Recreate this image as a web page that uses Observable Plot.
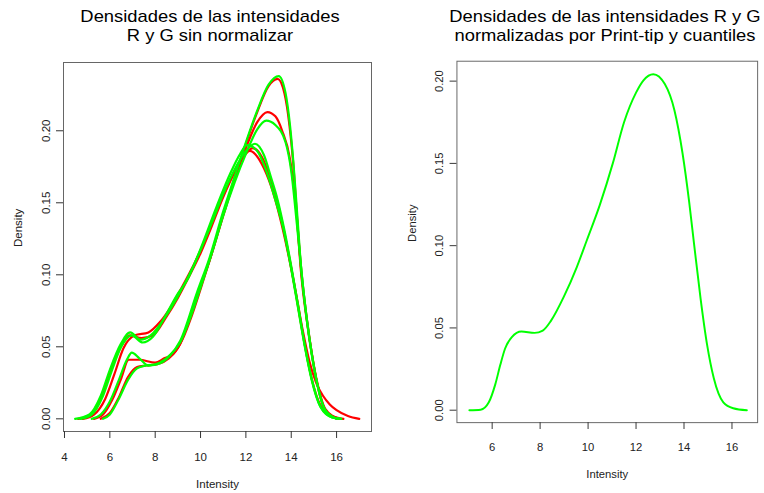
<!DOCTYPE html>
<html><head><meta charset="utf-8">
<script src="https://cdn.jsdelivr.net/npm/d3@7"></script>
<script src="https://cdn.jsdelivr.net/npm/@observablehq/plot@0.6"></script>
<style>
html,body{margin:0;padding:0;background:#fff;overflow:hidden;}
#wrap{position:relative;width:764px;height:493px;overflow:hidden;font-family:"Liberation Sans",Arial,sans-serif;background:#fff;}
.title{position:absolute;width:400px;height:19.2px;text-align:center;font-size:17px;line-height:19.2px;color:#000;white-space:nowrap;transform:scaleX(1.08);transform-origin:50% 50%;}
.panel{position:absolute;top:0;}
</style></head>
<body><div id="wrap">
<div class="panel" id="left" style="left:0"></div>
<div class="panel" id="right" style="left:382px"></div>
<div class="title" style="left:10px;top:7.2px">Densidades de las intensidades</div>
<div class="title" style="left:10px;top:26.4px">R y G sin normalizar</div>
<div class="title" style="left:405px;top:7.2px">Densidades de las intensidades R y G</div>
<div class="title" style="left:405px;top:26.4px">normalizadas por Print-tip y cuantiles</div>
</div>
<script>
// ---- Tick labels ----
const leftXTicks = [4, 6, 8, 10, 12, 14, 16];
const rightXTicks = [6, 8, 10, 12, 14, 16];
const densityTicks = [0, 0.05, 0.10, 0.15, 0.20];

// ---- Left panel: raw R (red) and G (green) densities ----
const redUpper1X = [4.8,5.3,5.8,6.2,6.6,7.1,7.7,8.2,8.7,9.2,9.7,10.2,10.7,11.2,11.7,12.17,12.7,13.1,13.5,13.9,14.2,14.5,14.8,15.1,15.4,15.7,16.0,16.5,17.0];
const redUpper1Y = [0,0.003,0.014,0.031,0.049,0.058,0.060,0.067,0.078,0.092,0.107,0.124,0.144,0.162,0.178,0.186,0.177,0.162,0.140,0.112,0.088,0.062,0.040,0.025,0.016,0.010,0.006,0.002,0];

const redUpper2X = [4.6,5.1,5.6,6.0,6.45,6.9,7.4,7.9,8.5,9.0,9.5,10.0,10.5,11.0,11.5,12.0,12.3,12.7,13.1,13.4,13.7,14.0,14.3,14.6,14.9,15.3,15.8,16.3];
const redUpper2Y = [0,0.002,0.014,0.032,0.049,0.058,0.056,0.058,0.071,0.084,0.099,0.115,0.134,0.154,0.171,0.184,0.188,0.182,0.166,0.150,0.129,0.105,0.078,0.051,0.028,0.009,0.002,0];

const redLower1X = [5.3,5.7,6.1,6.5,6.83,7.3,8.0,8.4,8.8,9.2,9.6,10.0,10.5,11.0,11.5,12.0,12.5,12.95,13.3,13.6,13.95,14.2,14.45,14.7,14.9,15.15,15.5,16.0];
const redLower1Y = [0,0.003,0.013,0.028,0.041,0.041,0.039,0.042,0.045,0.055,0.071,0.090,0.115,0.141,0.166,0.188,0.206,0.213,0.210,0.200,0.180,0.148,0.102,0.068,0.046,0.024,0.006,0];

const redLower2X = [5.6,6.0,6.4,6.8,7.2,7.6,8.1,8.6,9.1,9.8,10.4,11.0,11.5,12.0,12.5,13.0,13.4,13.7,13.92,14.08,14.22,14.42,14.68,14.9,15.15,15.5,16.1];
const redLower2Y = [0,0.004,0.015,0.029,0.036,0.037,0.038,0.042,0.052,0.084,0.110,0.142,0.167,0.191,0.213,0.231,0.236,0.226,0.204,0.179,0.148,0.104,0.069,0.046,0.025,0.007,0];

const greenUpper1X = [4.47,5.1,5.6,6.0,6.45,6.9,7.35,7.8,8.5,9.0,9.5,10.0,10.5,11.0,11.5,12.0,12.4,12.8,13.1,13.4,13.7,14.0,14.3,14.6,14.9,15.3,15.8,16.2];
const greenUpper1Y = [0,0.003,0.016,0.034,0.051,0.060,0.055,0.058,0.072,0.085,0.100,0.117,0.136,0.156,0.173,0.186,0.191,0.183,0.168,0.152,0.131,0.106,0.079,0.051,0.028,0.008,0.001,0];

const greenUpper2X = [4.7,5.2,5.7,6.1,6.5,6.95,7.45,7.9,8.5,9.0,9.4,10.0,10.7,11.3,11.75,12.05,12.5,12.9,13.3,13.65,14.0,14.3,14.6,14.9,15.3,15.8,16.2];
const greenUpper2Y = [0,0.003,0.016,0.034,0.050,0.058,0.053,0.057,0.073,0.087,0.096,0.118,0.147,0.170,0.184,0.190,0.186,0.172,0.152,0.132,0.104,0.077,0.050,0.027,0.008,0.001,0];

const greenLower1X = [5.2,5.6,6.0,6.4,6.75,6.97,7.3,7.7,8.2,8.7,9.1,9.5,10.0,10.5,11.0,11.5,12.0,12.5,12.9,13.3,13.75,14.0,14.25,14.5,14.7,14.9,15.15,15.5,16.0];
const greenLower1Y = [0,0.003,0.012,0.027,0.041,0.046,0.042,0.037,0.039,0.045,0.053,0.068,0.091,0.115,0.141,0.164,0.184,0.201,0.207,0.204,0.192,0.172,0.135,0.095,0.067,0.045,0.024,0.006,0];

const greenLower2X = [5.7,6.0,6.4,6.8,7.2,7.6,8.1,8.6,9.1,9.85,10.4,11.0,11.5,12.0,12.5,13.0,13.45,13.75,13.95,14.1,14.25,14.45,14.7,14.9,15.15,15.5,16.0];
const greenLower2Y = [0,0.003,0.014,0.027,0.035,0.037,0.038,0.043,0.054,0.088,0.112,0.144,0.168,0.192,0.214,0.232,0.238,0.226,0.203,0.177,0.145,0.102,0.068,0.046,0.024,0.006,0];

// ---- Right panel: normalized density ----
const normX = [5.05,5.52,5.86,6.13,6.34,6.54,6.82,7.22,7.77,8.11,8.45,8.99,9.53,9.94,10.49,11.03,11.5,12.0,12.31,12.72,13.2,13.6,13.94,14.22,14.42,14.69,14.96,15.24,15.64,16.05,16.62];
const normY = [0,0.0003,0.0048,0.0157,0.0276,0.0375,0.0444,0.0478,0.047,0.0484,0.0543,0.069,0.087,0.103,0.1248,0.150,0.175,0.193,0.2005,0.2042,0.1982,0.1823,0.156,0.126,0.101,0.068,0.040,0.0196,0.0048,0.0012,0];

const RED = "#ff0000", GREEN = "#00ff00";
const leftSeries = [
  {x: redUpper1X, y: redUpper1Y, c: RED},
  {x: redUpper2X, y: redUpper2Y, c: RED},
  {x: redLower1X, y: redLower1Y, c: RED},
  {x: redLower2X, y: redLower2Y, c: RED},
  {x: greenUpper1X, y: greenUpper1Y, c: GREEN},
  {x: greenUpper2X, y: greenUpper2Y, c: GREEN},
  {x: greenLower1X, y: greenLower1Y, c: GREEN},
  {x: greenLower2X, y: greenLower2Y, c: GREEN}
];
const toRows = (xs, ys) => xs.map((x, i) => ({x, y: ys[i]}));

function panelMarks(xTicks) {
  return [
    Plot.frame({stroke: "#666", strokeWidth: 1}),
    Plot.axisX({ticks: xTicks, tickSize: 7, tickPadding: 14, label: null, tickFormat: d => String(d), stroke: "#333"}),
    Plot.axisY({ticks: densityTicks, tickSize: 7, tickRotate: -90, tickPadding: 7, label: null, tickFormat: d => d.toFixed(2), stroke: "#333"}),
    Plot.text(["Intensity"], {text: d => d, frameAnchor: "bottom", lineAnchor: "top", dy: 48.5}),
    Plot.text(["Density"], {text: d => d, frameAnchor: "left", rotate: -90, lineAnchor: "bottom", dx: -41.6})
  ];
}
const style = {fontFamily: '"Liberation Sans", Arial, sans-serif', fontSize: "11.5px", background: "transparent", color: "#222", overflow: "visible"};

const left = Plot.plot({
  width: 382, height: 493,
  marginLeft: 63, marginRight: 11, marginTop: 62, marginBottom: 62,
  style,
  x: {domain: [3.956, 17.54]},
  y: {domain: [-0.0088, 0.2474]},
  marks: [
    ...panelMarks(leftXTicks),
    ...leftSeries.map(s => Plot.line(toRows(s.x, s.y), {x: "x", y: "y", stroke: s.c, strokeWidth: 2.2, curve: "monotone-x"}))
  ]
});
document.getElementById("left").appendChild(left);

const right = Plot.plot({
  width: 390, height: 493,
  marginLeft: 76, marginRight: 7, marginTop: 62, marginBottom: 62,
  style,
  x: {domain: [4.531, 17.07]},
  y: {domain: [-0.00756, 0.2121]},
  marks: [
    ...panelMarks(rightXTicks),
    Plot.line(toRows(normX, normY), {x: "x", y: "y", stroke: GREEN, strokeWidth: 2, curve: "monotone-x"})
  ]
});
document.getElementById("right").appendChild(right);
</script>
</body></html>
